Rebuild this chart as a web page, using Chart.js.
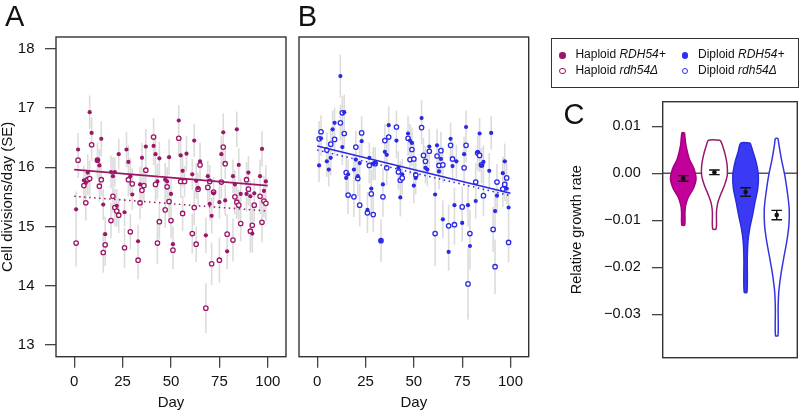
<!DOCTYPE html>
<html>
<head>
<meta charset="utf-8">
<script src="https://cdn.jsdelivr.net/npm/chart.js@4.4.1/dist/chart.umd.min.js"></script>
<style>
  body { margin: 0; background: #fff; font-family: 'Liberation Sans', Arial, sans-serif; }
  #wrap { position: relative; width: 802px; height: 412px; overflow: hidden; background: #fff; }
  canvas { position: absolute; top: 0; }
  .letter { position: absolute; font-size: 29px; line-height: 1; color: #111; }
  #legend { position: absolute; left: 551px; top: 37.7px; width: 248px; height: 50px; box-sizing: border-box;
            border: 1.3px solid #333; font-size: 12px; color: #111; }
  #legend .item { position: absolute; line-height: 14px; white-space: nowrap; }
  #legend .sym { position: absolute; width: 6.5px; height: 6.5px; border-radius: 50%; box-sizing: border-box; }
</style>
</head>
<body>
<div id="wrap">
  <canvas id="panelA" width="300" height="412" style="left:0px"></canvas>
  <canvas id="panelB" width="250" height="412" style="left:290px"></canvas>
  <canvas id="panelC" width="257" height="412" style="left:545px"></canvas>
  <div class="letter" style="left:5px; top:2.2px">A</div>
  <div class="letter" style="left:297.7px; top:2.2px">B</div>
  <div class="letter" style="left:563.5px; top:99.5px">C</div>
  <div id="legend">
    <span class="sym" style="left:7.2px; top:13.6px; background:#9c1768"></span>
    <span class="item" style="left:23.4px; top:8.3px">Haploid <i>RDH54+</i></span>
    <span class="sym" style="left:7.2px; top:29.3px; border:1.7px solid #9c1768; background:#fff"></span>
    <span class="item" style="left:23.4px; top:24px">Haploid <i>rdh54&#916;</i></span>
    <span class="sym" style="left:129.8px; top:13.6px; background:#2f2fee"></span>
    <span class="item" style="left:146px; top:8.3px">Diploid <i>RDH54+</i></span>
    <span class="sym" style="left:129.8px; top:29.3px; border:1.7px solid #2f2fee; background:#fff"></span>
    <span class="item" style="left:146px; top:24px">Diploid <i>rdh54&#916;</i></span>
  </div>
</div>
<script>
const FONT = "'Liberation Sans', Arial, Helvetica, sans-serif";
const hapColor = '#9c1768';
const dipColor = '#2a2ae6';

// Panel A: haploid, RDH54+ (filled) and rdh54 delta (hollow)
const hapPlusDays = [1,2,5,6,7,8,9, 12,13,14,15,16, 19,20,21,22,23, 26,27,28,29,30, 33,34,35,37, 41,42,43,44,
  47,48,49,50,51, 54,55,56,58, 61,62,63,64,65, 68,69,70,71,72, 75,76,77,78,79, 82,83,84,85,86, 89,90,91,92,93, 96,97,98,99];
const hapPlusVals = [15.29,16.30,15.78,15.74,15.91,16.93,16.58, 16.12,16.03,16.48,15.37,14.87, 15.92,15.85,15.92,15.35,16.22,
  15.24,16.30,16.09,15.85,15.54, 14.75,15.71,16.16,16.35, 16.36,16.22,15.76,16.15, 15.79,15.76,16.17,15.55,14.70,
  16.79,16.20,15.94,16.23, 15.88,16.45,15.77,15.65,16.10, 14.85,15.85,15.38,15.18,15.56, 15.41,16.22,16.59,15.44,14.58,
  15.85,15.71,16.64,16.04,15.55, 15.55,15.91,15.51,14.88,15.56, 15.85,16.31,15.60,15.76];
const hapPlusSE = [0.30,0.28,0.25,0.22,0.30,0.28,0.26, 0.24,0.28,0.30,0.26,0.30, 0.28,0.32,0.25,0.28,0.26,
  0.24,0.30,0.28,0.30,0.26, 0.28,0.30,0.25,0.30, 0.32,0.26,0.30,0.28, 0.28,0.24,0.30,0.26,0.30,
  0.26,0.30,0.28,0.30, 0.26,0.28,0.30,0.24,0.32, 0.30,0.26,0.28,0.30,0.26, 0.28,0.30,0.32,0.26,0.30,
  0.28,0.24,0.30,0.28,0.26, 0.30,0.28,0.26,0.32,0.24, 0.28,0.30,0.26,0.28];

const hapDelDays = [1,2,5,6,7,8,9, 12,13,14,15,16, 19,20,21,22,23, 26,28,29,30, 33,34,35,36,37, 41,42,43,44,
  47,48,49,50,51, 54,55,56,57, 61,62,63,64,65, 68,69,70,71,72, 75,76,77,78,79, 82,83,84,85,86, 89,90,91,92,93, 96,97,98,99];
const hapDelVals = [14.72,16.12,15.69,15.40,15.79,15.81,16.38, 16.12,15.68,15.79,14.56,14.69, 15.10,15.51,15.32,15.26,15.19,
  14.64,15.79,14.91,15.72, 14.43,15.40,15.61,15.69,15.95, 16.51,15.71,14.72,15.08, 15.28,15.67,15.42,15.10,14.60,
  16.49,15.76,15.22,15.76, 14.88,15.32,14.70,15.63,16.04, 13.62,15.66,15.76,14.37,15.58, 14.43,15.75,16.34,16.06,14.87,
  14.77,15.50,15.41,15.36,15.05, 15.79,15.63,14.92,15.02,15.36, 15.51,15.07,15.43,15.39];
const hapDelSE = [0.40,0.30,0.28,0.30,0.26,0.30,0.28, 0.30,0.26,0.28,0.34,0.36, 0.30,0.28,0.32,0.26,0.30,
  0.34,0.28,0.30,0.26, 0.32,0.28,0.30,0.26,0.28, 0.32,0.28,0.36,0.30, 0.30,0.26,0.28,0.30,0.32,
  0.30,0.28,0.30,0.26, 0.34,0.30,0.30,0.28,0.26, 0.42,0.30,0.28,0.36,0.26, 0.38,0.28,0.30,0.26,0.34,
  0.36,0.30,0.28,0.26,0.30, 0.30,0.28,0.36,0.32,0.28, 0.30,0.34,0.28,0.30];

// Panel B: diploid
const dipPlusDays = [1,2,5,6,7,8,9, 12,13,14,15,16, 19,20,21,22,23, 26,27,28,29,30, 33,34,35,36,37, 41,42,43,44,
  47,48,49,50,51, 54,56,57,58, 61,62,63,64,65, 68,69,70,71,72, 75,76,77,78,79, 82,83,84,85,86, 89,90,92,93, 96,97,98,99];
const dipPlusVals = [16.03,16.49,16.10,15.96,16.16,16.64,16.75, 17.54,16.34,16.93,15.82,15.88, 15.96,16.13,15.85,16.07,16.44,
  15.28,16.16,15.64,16.06,16.08, 14.76,15.71,16.26,16.21,16.71, 16.45,15.99,15.49,15.88, 16.57,16.45,16.41,15.69,15.82,
  16.83,15.99,15.96,16.35, 15.54,16.37,15.93,16.14,15.12, 14.57,16.48,16.02,15.36,16.10, 15.06,16.22,16.68,15.36,14.67,
  15.43,16.26,16.57,16.03,16.09, 15.94,16.58,15.26,15.52, 15.90,16.10,15.64,15.32];
const dipPlusSE = [0.28,0.30,0.26,0.28,0.30,0.32,0.26, 0.36,0.30,0.30,0.28,0.26, 0.28,0.30,0.26,0.32,0.28,
  0.30,0.26,0.32,0.28,0.26, 0.36,0.28,0.30,0.26,0.32, 0.30,0.28,0.32,0.26, 0.30,0.28,0.26,0.30,0.28,
  0.30,0.26,0.28,0.30, 0.34,0.28,0.30,0.26,0.32, 0.32,0.28,0.26,0.30,0.28, 0.32,0.30,0.28,0.36,0.40,
  0.30,0.28,0.26,0.30,0.28, 0.30,0.28,0.36,0.30, 0.28,0.30,0.26,0.32];

const dipDelDays = [1,2,5,7,9, 12,13,14,15,16, 19,20,21,22,23, 26,27,28,29,30, 33,34,35,36,37, 41,42,43,44,
  47,48,49,50,51, 54,55,56,58, 61,62,63,64,65, 68,69,70,71, 75,76,77,78,79, 82,83,84,85,86, 91,92,93, 96,97,98,99];
const dipDelVals = [16.48,16.60,16.29,16.39,16.47, 16.75,16.92,16.57,15.91,15.53, 15.50,16.34,15.81,15.36,16.58,
  15.23,16.03,15.55,15.20,16.06, 14.76,15.50,16.45,15.99,16.51, 16.68,15.92,15.78,15.82, 16.49,16.13,16.30,16.14,15.87,
  16.67,16.20,16.10,16.27, 14.88,16.19,16.03,16.28,16.04, 15.01,16.37,16.14,15.03, 15.33,15.99,16.37,14.03,14.88,
  15.75,16.24,16.20,16.04,15.52, 14.95,14.32,15.75, 15.63,15.71,15.82,14.73];
const dipDelSE = [0.30,0.28,0.30,0.26,0.28, 0.30,0.28,0.26,0.30,0.32, 0.34,0.28,0.30,0.36,0.28,
  0.34,0.30,0.32,0.30,0.28, 0.30,0.34,0.28,0.30,0.26, 0.28,0.30,0.32,0.28, 0.30,0.26,0.28,0.30,0.28,
  0.28,0.30,0.26,0.28, 0.55,0.30,0.28,0.32,0.30, 0.36,0.28,0.30,0.34, 0.34,0.30,0.28,0.60,0.40,
  0.32,0.30,0.28,0.26,0.34, 0.38,0.46,0.30, 0.30,0.28,0.30,0.34];

// fitted lines, value at day 0 and day 100
const regDays = [0, 100];
const hapPlusFit = [15.96, 15.69];
const hapDelFit = [15.51, 15.26];
const dipPlusFit = [16.36, 15.56];
const dipDelFit = [16.29, 15.52];

const dayTicks = [0, 25, 50, 75, 100];
const divTicks = [13, 14, 15, 16, 17, 18];

// Panel C: violins of relative growth rate
const violinPos = [1, 2, 3, 4];
const violinLevels = [
  [0.0086, 0.0059, 0.0031, 0.0010, -0.0012, -0.0033, -0.0051, -0.0069, -0.0083, -0.0110],
  [0.0070, 0.0059, 0.0037, 0.0016, -0.0005, -0.0026, -0.0047, -0.0065, -0.0083, -0.0118],
  [0.0064, 0.0045, 0.0023, -0.0005, -0.0033, -0.0062, -0.0090, -0.0118, -0.0146, -0.0182, -0.0253],
  [0.0074, 0.0059, 0.0030, -0.0005, -0.0040, -0.0076, -0.0111, -0.0146, -0.0182, -0.0217, -0.0253, -0.0288, -0.0345]
];
const violinHalfWidths = [
  [0.04, 0.086, 0.19, 0.34, 0.41, 0.32, 0.16, 0.075, 0.054, 0.045],
  [0.19, 0.26, 0.355, 0.41, 0.41, 0.32, 0.19, 0.10, 0.065, 0.055],
  [0.15, 0.24, 0.34, 0.41, 0.39, 0.30, 0.22, 0.13, 0.075, 0.054, 0.045],
  [0.04, 0.075, 0.15, 0.26, 0.34, 0.40, 0.39, 0.32, 0.22, 0.13, 0.065, 0.045, 0.04]
];
const violinMeans = [-0.0011, 0.0002, -0.0040, -0.0089];
const violinSE = [0.0006, 0.0005, 0.0009, 0.0010];
const violinFill = ['#c2009a', '#ffffff', '#3a3af4', '#ffffff'];
const violinLine = ['#a5007a', '#9a1a6a', '#2b2bd8', '#3535e0'];
const rateTicks = [0.01, 0, -0.01, -0.02, -0.03];

const framePlugin = {
  id: 'frame',
  afterDraw(chart) {
    const a = chart.chartArea;
    const ctx = chart.ctx;
    ctx.save();
    ctx.strokeStyle = '#333';
    ctx.lineWidth = 1.4;
    ctx.strokeRect(a.left, a.top, a.right - a.left, a.bottom - a.top);
    ctx.restore();
  }
};

function points(days, vals) {
  return days.map((d, i) => ({ x: d, y: vals[i] }));
}

function errorBars(days, vals, se) {
  const out = [];
  days.forEach((d, i) => {
    out.push({ x: d, y: vals[i] - se[i] }, { x: d, y: vals[i] + se[i] }, { x: d, y: null });
  });
  return out;
}

function tickGrid() {
  return { display: true, drawOnChartArea: false, drawTicks: true, tickLength: 11, color: '#444', lineWidth: 1.3 };
}

function scatterPanel(id, d) {
  const ctx = document.getElementById(id).getContext('2d');
  return new Chart(ctx, {
    type: 'scatter',
    data: {
      datasets: [
        { data: errorBars(d.plusDays, d.plusVals, d.plusSE).concat(errorBars(d.delDays, d.delVals, d.delSE)),
          showLine: true, spanGaps: false, borderColor: '#dcdcdc', borderWidth: 1.6, pointRadius: 0, order: 5 },
        { data: points(d.delDays, d.delVals), pointRadius: 2.2, pointBorderWidth: 1.3,
          pointBorderColor: d.color, pointBackgroundColor: '#fff', order: 4 },
        { data: points(d.plusDays, d.plusVals), pointRadius: 2.1, pointBorderWidth: 0,
          pointBackgroundColor: d.color, order: 3 },
        { data: points(regDays, d.delFit), showLine: true, borderColor: d.color, borderWidth: 1.5,
          borderDash: [1.5, 3.5], pointRadius: 0, order: 2 },
        { data: points(regDays, d.plusFit), showLine: true, borderColor: d.color, borderWidth: 1.6,
          pointRadius: 0, order: 1 }
      ]
    },
    options: {
      responsive: false,
      animation: false,
      events: [],
      layout: { padding: d.padding },
      plugins: { legend: { display: false }, tooltip: { enabled: false } },
      scales: {
        x: {
          type: 'linear', min: -9.4, max: 109.4,
          afterBuildTicks: s => { s.ticks = dayTicks.map(v => ({ value: v })); },
          afterFit: s => { s.height = 55.3; },
          grid: tickGrid(),
          border: { display: false },
          ticks: { autoSkip: false, maxRotation: 0, padding: 5, color: '#111', font: { family: FONT, size: 15 } },
          title: { display: true, text: 'Day', color: '#111', padding: { top: 0, bottom: 1.5 },
                   font: { family: FONT, size: 15, lineHeight: 1 } }
        },
        y: {
          type: 'linear', min: 12.8, max: 18.2,
          display: d.showY,
          afterBuildTicks: s => { s.ticks = divTicks.map(v => ({ value: v })); },
          afterFit: s => { s.width = d.showY ? 56 : 0; },
          grid: tickGrid(),
          border: { display: false },
          ticks: { autoSkip: false, padding: 10.5, color: '#111', font: { family: FONT, size: 15 } },
          title: { display: true, text: 'Cell divisions/day (SE)', color: '#111', padding: 0,
                   font: { family: FONT, size: 15, lineHeight: 1 } }
        }
      }
    },
    plugins: [framePlugin]
  });
}

function violinShape(center, levels, half) {
  const right = levels.map((y, i) => ({ x: center + half[i], y: y }));
  const left = levels.map((y, i) => ({ x: center - half[i], y: y })).reverse();
  return right.concat(left, [right[0]]);
}

function violinPanel() {
  const ctx = document.getElementById('panelC').getContext('2d');
  const capHalf = 0.17;
  const bars = [];
  violinPos.forEach((p, i) => {
    const lo = violinMeans[i] - violinSE[i];
    const hi = violinMeans[i] + violinSE[i];
    bars.push({ x: p, y: lo }, { x: p, y: hi }, { x: p, y: null },
              { x: p - capHalf, y: lo }, { x: p + capHalf, y: lo }, { x: p, y: null },
              { x: p - capHalf, y: hi }, { x: p + capHalf, y: hi }, { x: p, y: null });
  });
  const datasets = [
    { data: [{ x: 0.34, y: 0 }, { x: 4.66, y: 0 }], showLine: true, borderColor: '#555', borderWidth: 1.3,
      pointRadius: 0, order: 10 }
  ];
  violinPos.forEach((p, i) => {
    datasets.push({ data: violinShape(p, violinLevels[i], violinHalfWidths[i]), showLine: true, fill: 'shape',
      backgroundColor: violinFill[i], borderColor: violinLine[i], borderWidth: 1.5, tension: 0.3,
      pointRadius: 0, order: 5 });
  });
  datasets.push({ data: bars, showLine: true, spanGaps: false, borderColor: '#111', borderWidth: 1.4,
    pointRadius: 0, order: 2 });
  datasets.push({ data: points(violinPos, violinMeans), pointRadius: 2.3, pointBackgroundColor: '#111',
    pointBorderWidth: 0, order: 1 });

  return new Chart(ctx, {
    type: 'scatter',
    data: { datasets: datasets },
    options: {
      responsive: false,
      animation: false,
      events: [],
      layout: { padding: { left: 24.5, top: 101.7, right: 4.7, bottom: 54.3 } },
      plugins: { legend: { display: false }, tooltip: { enabled: false } },
      scales: {
        x: { type: 'linear', min: 0.34, max: 4.66, display: false },
        y: {
          type: 'linear', min: -0.0392, max: 0.0152,
          afterBuildTicks: s => { s.ticks = rateTicks.map(v => ({ value: v })); },
          afterFit: s => { s.width = 93.2; },
          grid: { display: true, drawOnChartArea: false, drawTicks: true, tickLength: 10.7, color: '#444', lineWidth: 1.3 },
          border: { display: false },
          ticks: { autoSkip: false, padding: 11.3, color: '#111', font: { family: FONT, size: 14.5 },
                   callback: v => (v < 0 ? '\u2212' : '') + Math.abs(v).toFixed(2) },
          title: { display: true, text: 'Relative growth rate', color: '#111', padding: 0,
                   font: { family: FONT, size: 14.5, lineHeight: 1 } }
        }
      }
    },
    plugins: [framePlugin]
  });
}

window.onload = function() {
  scatterPanel('panelA', {
    plusDays: hapPlusDays, plusVals: hapPlusVals, plusSE: hapPlusSE,
    delDays: hapDelDays, delVals: hapDelVals, delSE: hapDelSE,
    plusFit: hapPlusFit, delFit: hapDelFit, color: hapColor, showY: true,
    padding: { left: 0, top: 37, right: 14, bottom: 0 }
  });
  scatterPanel('panelB', {
    plusDays: dipPlusDays, plusVals: dipPlusVals, plusSE: dipPlusSE,
    delDays: dipDelDays, delVals: dipDelVals, delSE: dipDelSE,
    plusFit: dipPlusFit, delFit: dipDelFit, color: dipColor, showY: false,
    padding: { left: 9, top: 37, right: 11.3, bottom: 0 }
  });
  violinPanel();
};
</script>
</body>
</html>
